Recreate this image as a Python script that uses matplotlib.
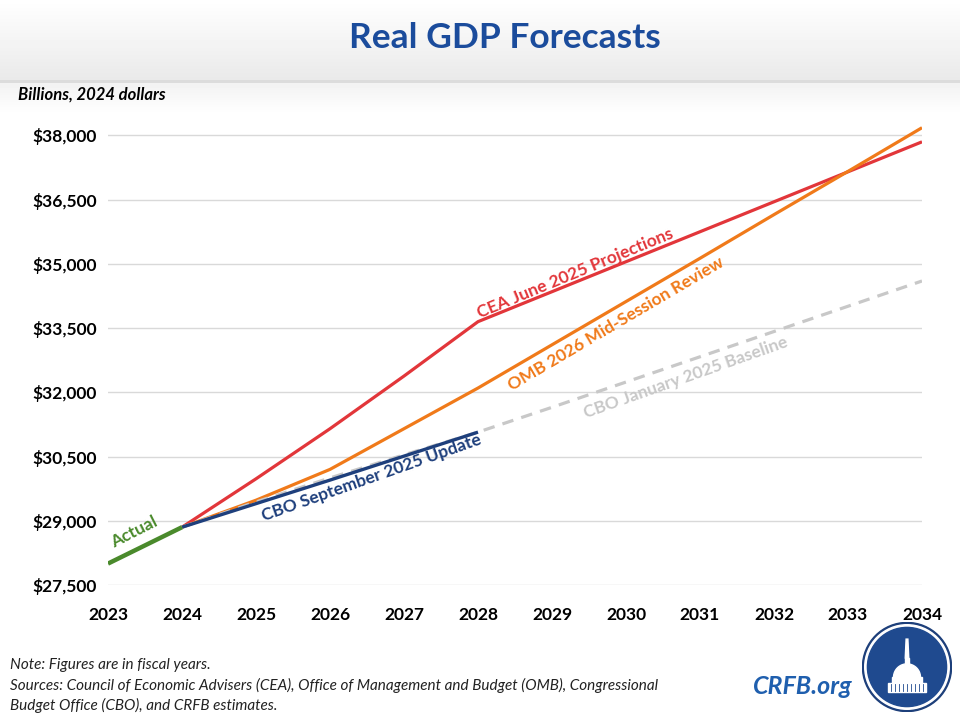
import matplotlib
matplotlib.use("Agg")
import matplotlib.pyplot as plt
import numpy as np
from matplotlib.patches import Circle, Polygon, Rectangle

plt.rcParams["font.family"] = ["Lato", "DejaVu Sans"]

# ---- data (billions of 2024 dollars, fiscal years) ----
actual_years = [2023, 2024]
actual = [28000, 28850]

years = [2024, 2025, 2026, 2027, 2028, 2029, 2030, 2031, 2032, 2033, 2034]
cea = [28850, 29980, 31150, 32380, 33650, 34350, 35050, 35750, 36450, 37150, 37850]
omb = [28850, 29480, 30200, 31150, 32100, 33110, 34120, 35130, 36150, 37160, 38180]
cbo_jan = [28850, 29440, 30000, 30540, 31070, 31650, 32240, 32830, 33420, 34010, 34600]

sep_years = [2024, 2025, 2026, 2027, 2028]
cbo_sep = [28850, 29400, 29950, 30510, 31070]

yticks = [27500, 29000, 30500, 32000, 33500, 35000, 36500, 38000]
xticks = list(range(2023, 2035))

C_CEA = "#e2363a"
C_OMB = "#f07a1a"
C_JAN = "#c8c8c8"
C_SEP = "#1e3f7c"
C_ACT = "#4a8a2c"
C_TITLE = "#1b4c9c"

fig = plt.figure(figsize=(9.6, 7.2), dpi=100)

# header band gradient
bg = fig.add_axes([0, 0, 1, 1], zorder=-5)
col = np.ones(720)
col[:80] = np.linspace(1.0, 0.915, 80)
col[80:83] = 0.86
col[83:115] = np.linspace(0.95, 1.0, 32)
bg.imshow(np.repeat(col[:, None], 4, axis=1), cmap="gray", vmin=0, vmax=1,
          aspect="auto", extent=(0, 1, 0, 1))
bg.set_axis_off()

ax = fig.add_axes([108 / 960, 1 - 585 / 720, (922 - 108) / 960, 471 / 720])
ax.set_facecolor("none")

ax.plot(years, cea, color=C_CEA, lw=2.3, zorder=3, solid_capstyle="butt")
ax.plot(years, omb, color=C_OMB, lw=2.3, zorder=3, solid_capstyle="butt")
ax.plot(years, cbo_jan, color=C_JAN, lw=2.3, ls=(0, (3.6, 2.6)), zorder=4)
ax.plot(sep_years, cbo_sep, color=C_SEP, lw=2.4, zorder=5, solid_capstyle="butt")
ax.plot(actual_years, actual, color=C_ACT, lw=3.2, zorder=6, solid_capstyle="butt")

ax.set_xlim(2023, 2034)
ax.set_ylim(27500, 38500)
ax.set_yticks(yticks)
ax.set_yticklabels([f"${v:,}" for v in yticks])
ax.set_xticks(xticks)
ax.set_xticklabels([str(x) for x in xticks])
ax.tick_params(axis="y", length=0, labelsize=12.5, pad=8)
ax.tick_params(axis="x", length=0, labelsize=12.5, pad=16)
for lab in ax.get_xticklabels() + ax.get_yticklabels():
    lab.set_fontweight("bold")
ax.grid(axis="y", color="#d9d9d9", lw=1)
ax.set_axisbelow(True)
for s in ax.spines.values():
    s.set_visible(False)

# series labels
lab_kw = dict(fontsize=12.5, fontweight="bold", ha="center", va="center")
ax.text(2023.35, 28740, "Actual", color=C_ACT, rotation=27, **lab_kw)
ax.text(2029.31, 34790, "CEA June 2025 Projections", color=C_CEA, rotation=22.5, **lab_kw)
ax.text(2029.87, 33600, "OMB 2026 Mid-Session Review", color=C_OMB, rotation=30.5, **lab_kw)
ax.text(2030.81, 32340, "CBO January 2025 Baseline", color=C_JAN, rotation=19.5, **lab_kw)
ax.text(2026.56, 30000, "CBO September 2025 Update", color=C_SEP, rotation=19.5, **lab_kw)

# title and notes
fig.text(505 / 960, 1 - 38 / 720, "Real GDP Forecasts", color=C_TITLE, fontsize=25.5,
         fontweight="bold", ha="center", va="center")
fig.text(18 / 960, 1 - 95 / 720, "Billions, 2024 dollars", fontsize=12,
         fontweight="bold", style="italic", ha="left", va="center")
notes = ["Note: Figures are in fiscal years.",
         "Sources: Council of Economic Advisers (CEA), Office of Management and Budget (OMB), Congressional",
         "Budget Office (CBO), and CRFB estimates."]
for i, line in enumerate(notes):
    fig.text(10 / 960, 1 - (665 + 20 * i) / 720, line, fontsize=11, style="italic",
             color="#222222", ha="left", va="center")
fig.text(853 / 960, 1 - 686 / 720, "CRFB.org", color="#1f5fae", fontsize=18,
         fontweight="bold", style="italic", ha="right", va="center")

# logo
lg = fig.add_axes([862 / 960, 1 - 712 / 720, 90 / 960, 90 / 720])
lg.set_xlim(-1, 1)
lg.set_ylim(-1, 1)
lg.set_aspect("equal")
lg.set_axis_off()
lg.add_patch(Circle((0, 0), 0.99, color="#1d3f7a"))
lg.add_patch(Circle((0, 0), 0.94, color="white"))
lg.add_patch(Circle((0, 0), 0.88, color="#1f4a8f"))
# simple capitol silhouette
lg.add_patch(Rectangle((-0.42, -0.55), 0.84, 0.2, color="white"))
lg.add_patch(Rectangle((-0.34, -0.35), 0.68, 0.12, color="white"))
th = np.linspace(0, np.pi, 30)
dome = np.column_stack([0.3 * np.cos(th), -0.23 + 0.3 * np.sin(th)])
lg.add_patch(Polygon(dome, color="white"))
lg.add_patch(Rectangle((-0.05, 0.07), 0.1, 0.12, color="white"))
lg.add_patch(Polygon([[-0.04, 0.19], [0.04, 0.19], [0.02, 0.62], [-0.02, 0.62]], color="white"))
for xc in np.linspace(-0.36, 0.36, 9):
    lg.plot([xc, xc], [-0.53, -0.37], color="#1f4a8f", lw=0.6)

fig.savefig("out.png", dpi=100)
